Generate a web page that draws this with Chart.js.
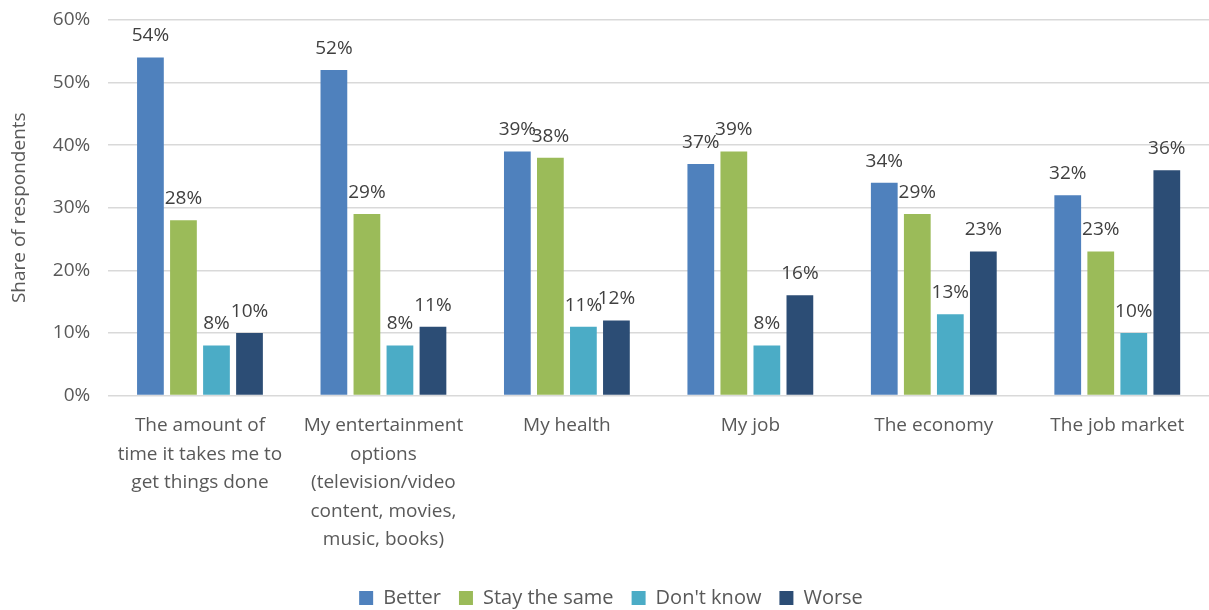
<!DOCTYPE html>
<html>
<head>
<meta charset="utf-8">
<script src="https://cdn.jsdelivr.net/npm/chart.js@4"></script>
<style>
  html, body { margin: 0; padding: 0; background: #fff; }
  #wrap { width: 1209px; height: 610px; position: relative; }
</style>
</head>
<body>
<div id="wrap"><canvas id="chart" width="1209" height="610"></canvas></div>
<script>
// Categories and series
const categories = [
  ['The amount of', 'time it takes me to', 'get things done'],
  ['My entertainment', 'options', '(television/video', 'content, movies,', 'music, books)'],
  'My health',
  'My job',
  'The economy',
  'The job market'
];
const better     = [54, 52, 39, 37, 34, 32];
const stayBetter = [28, 29, 38, 39, 29, 23];
const dontKnow   = [8, 8, 11, 8, 13, 10];
const worse      = [10, 11, 12, 16, 23, 36];
const yTicks     = [0, 10, 20, 30, 40, 50, 60];

const FONT = "'Open Sans', 'Noto Sans', sans-serif";
const TEXT = '#595959';

// Draws "NN%" above each bar, like Excel's outside-end labels
const valueLabels = {
  id: 'valueLabels',
  afterDatasetsDraw(chart) {
    const ctx = chart.ctx;
    ctx.save();
    ctx.font = '19px ' + FONT;
    ctx.fillStyle = '#404040';
    ctx.textAlign = 'center';
    ctx.textBaseline = 'bottom';
    chart.data.datasets.forEach((ds, i) => {
      chart.getDatasetMeta(i).data.forEach((bar, j) => {
        ctx.fillText(ds.data[j] + '%', bar.x, bar.y - 12);
      });
    });
    ctx.restore();
  }
};

new Chart(document.getElementById('chart'), {
  type: 'bar',
  data: {
    labels: categories,
    datasets: [
      { label: 'Better',         data: better,     backgroundColor: '#4f81bd' },
      { label: 'Stay the same',  data: stayBetter, backgroundColor: '#9bbb59' },
      { label: "Don't know",     data: dontKnow,   backgroundColor: '#4bacc6' },
      { label: 'Worse',          data: worse,      backgroundColor: '#2c4d75' }
    ]
  },
  options: {
    responsive: false,
    animation: false,
    layout: { padding: { top: 20, right: -9, bottom: -8, left: 4 } },
    datasets: { bar: { categoryPercentage: 0.72, barPercentage: 0.81 } },
    scales: {
      x: {
        grid: { display: false },
        border: { display: false },
        afterFit: s => { s.height += 8; },
        ticks: {
          color: TEXT, font: { family: FONT, size: 19, lineHeight: 1.5 },
          maxRotation: 0, autoSkip: false, padding: 8
        }
      },
      y: {
        min: 0, max: 60,
        afterBuildTicks: axis => { axis.ticks = yTicks.map(v => ({ value: v })); },
        afterFit: s => { s.paddingTop = 0; },
        grid: { color: '#d9d9d9', lineWidth: 1.5, drawTicks: false },
        border: { display: false },
        ticks: {
          color: TEXT, font: { family: FONT, size: 19 }, padding: 18,
          callback: v => v + '%'
        },
        title: {
          display: true, text: 'Share of respondents', color: TEXT,
          font: { family: FONT, size: 19 }, padding: { bottom: 4 }
        }
      }
    },
    plugins: {
      legend: {
        position: 'bottom',
        labels: {
          color: TEXT, font: { family: FONT, size: 20 },
          boxWidth: 14, boxHeight: 14, padding: 18
        }
      },
      tooltip: { enabled: false }
    }
  },
  plugins: [valueLabels]
});
</script>
</body>
</html>
